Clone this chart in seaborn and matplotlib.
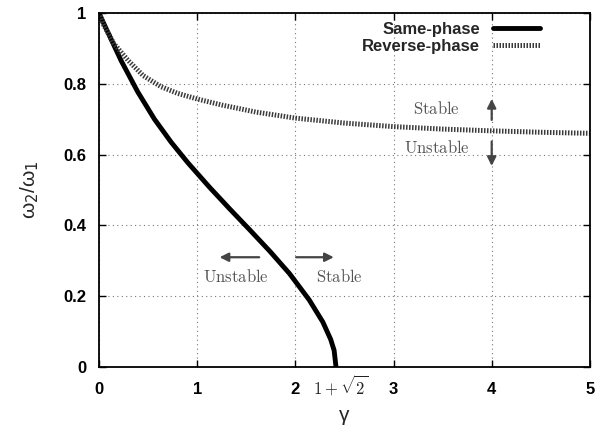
import numpy as np
import pandas as pd
import seaborn as sns
import matplotlib
matplotlib.use("Agg")
import matplotlib.pyplot as plt

# Same-phase branch: frequency ratio vs coupling gamma
gamma_same = [0, 0.056, 0.226, 0.395, 0.565, 0.735, 0.905, 1.125, 1.33,
              1.53, 1.74, 1.94, 2.14, 2.28, 2.36, 2.395, 1 + np.sqrt(2)]
ratio_same = [1.0, 0.966, 0.865, 0.777, 0.700, 0.635, 0.577, 0.508, 0.447,
              0.389, 0.327, 0.264, 0.19, 0.127, 0.078, 0.047, 0.0]

# Reverse-phase branch
gamma_rev = [0, 0.05, 0.15, 0.3, 0.45, 0.63, 0.8, 1.0, 1.25, 1.6, 2.0,
             2.5, 3.0, 3.5, 4.0, 4.5, 5.0]
ratio_rev = [1.0, 0.965, 0.914, 0.865, 0.823, 0.792, 0.773, 0.757, 0.74,
             0.72, 0.703, 0.689, 0.679, 0.672, 0.667, 0.663, 0.66]

series_labels = ["Same-phase", "Reverse-phase"]
x_ticks = [0, 1, 2, 3, 4, 5]
y_ticks = [0, 0.2, 0.4, 0.6, 0.8, 1]
y_tick_labels = ["0", "0.2", "0.4", "0.6", "0.8", "1"]

sns.set_theme(style="ticks")
plt.rcParams["font.family"] = ["Liberation Sans", "DejaVu Sans"]

df_same = pd.DataFrame({"gamma": gamma_same, "ratio": ratio_same})
df_rev = pd.DataFrame({"gamma": gamma_rev, "ratio": ratio_rev})

fig = plt.figure(figsize=(6.05, 4.32), dpi=100)
ax = fig.add_axes([0.1636, 0.1505, 0.8114, 0.8195])

sns.lineplot(data=df_same, x="gamma", y="ratio", ax=ax, color="black",
             lw=3.5, label=series_labels[0], sort=False)
sns.lineplot(data=df_rev, x="gamma", y="ratio", ax=ax, color="#3a3a3a",
             lw=3.6, dashes=False, label=series_labels[1], sort=False)
ax.lines[0].set_solid_joinstyle("round")
ax.lines[1].set_linestyle((0, (0.3, 0.3)))

ax.set_xlim(0, 5)
ax.set_ylim(0, 1)
ax.set_xticks(x_ticks)
ax.set_xticklabels([str(t) for t in x_ticks])
ax.set_yticks(y_ticks)
ax.set_yticklabels(y_tick_labels)
ax.tick_params(direction="in", length=5, width=1, top=True, right=True,
               labelsize=12, colors="black")
ax.tick_params(axis="x", pad=11)
ax.tick_params(axis="y", pad=9)
for lab in ax.get_xticklabels() + ax.get_yticklabels():
    lab.set_fontweight("bold")
ax.grid(True, linestyle=(0, (1, 3)), color="#777777", lw=0.8)
for sp in ax.spines.values():
    sp.set_color("black")
    sp.set_linewidth(1.3)

ax.set_xlabel("γ", fontsize=15, labelpad=6)
ax.set_ylabel("ω$_2$/ω$_1$", fontsize=15, labelpad=16)

# extra label at the root of the same-phase branch
ax.text(2.46, -0.052, r"$1+\sqrt{2}$", ha="center", va="center",
        fontsize=12, math_fontfamily="cm", color="#222222")

leg = ax.legend(loc="upper right", bbox_to_anchor=(0.898, 0.975),
                frameon=False, markerfirst=False, fontsize=12,
                handlelength=2.8, handletextpad=0.8, labelspacing=0.15,
                borderaxespad=0, borderpad=0)
for t in leg.get_texts():
    t.set_fontweight("bold")

# stability annotations
txt_kw = dict(fontsize=12, math_fontfamily="cm", color="#555555",
              ha="center", va="center")
arr_kw = dict(arrowstyle="-|>", color="#444444", lw=1.6, mutation_scale=13)
ax.annotate("", xy=(1.2, 0.31), xytext=(1.66, 0.31), arrowprops=arr_kw)
ax.text(1.40, 0.255, r"$\mathrm{Unstable}$", **txt_kw)
ax.annotate("", xy=(2.42, 0.31), xytext=(1.98, 0.31), arrowprops=arr_kw)
ax.text(2.45, 0.255, r"$\mathrm{Stable}$", **txt_kw)
ax.annotate("", xy=(4.0, 0.765), xytext=(4.0, 0.69), arrowprops=arr_kw)
ax.text(3.44, 0.73, r"$\mathrm{Stable}$", **txt_kw)
ax.annotate("", xy=(4.0, 0.56), xytext=(4.0, 0.645), arrowprops=arr_kw)
ax.text(3.44, 0.62, r"$\mathrm{Unstable}$", **txt_kw)

fig.savefig("out.png", dpi=100)
